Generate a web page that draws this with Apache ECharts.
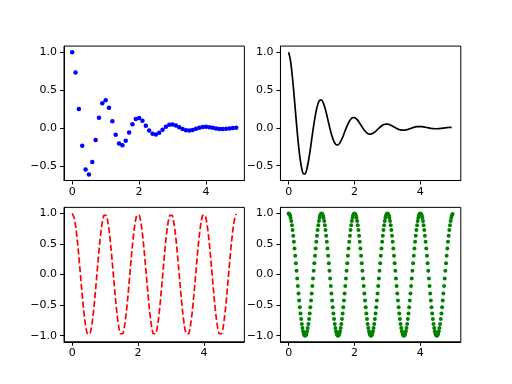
<!DOCTYPE html>
<html><head><meta charset="utf-8">
<script src="https://cdn.jsdelivr.net/npm/echarts@6/dist/echarts.min.js"></script>
<style>html,body{margin:0;padding:0;background:#fff}#c{width:512px;height:384px}</style>
</head><body><div id="c"></div>
<script>
// top-left: sampled points (step 0.1)
var t1 = [0,.1,.2,.3,.4,.5,.6,.7,.8,.9,1,1.1,1.2,1.3,1.4,1.5,1.6,1.7,1.8,1.9,2,2.1,2.2,2.3,2.4,2.5,2.6,2.7,2.8,2.9,3,3.1,3.2,3.3,3.4,3.5,3.6,3.7,3.8,3.9,4,4.1,4.2,4.3,4.4,4.5,4.6,4.7,4.8,4.9];
var y1 = [1,.732,.253,-.229,-.542,-.607,-.444,-.153,.139,.329,.368,.269,.093,-.084,-.2,-.223,-.163,-.056,.051,.121,.135,.099,.034,-.031,-.073,-.082,-.06,-.021,.019,.045,.05,.036,.013,-.011,-.027,-.03,-.022,-.008,.007,.016,.018,.013,.005,-.004,-.01,-.011,-.008,-.003,.003,.006];
// top-right: black curve (step 0.05)
var t3 = [0,.05,.1,.15,.2,.25,.3,.35,.4,.45,.5,.55,.6,.65,.7,.75,.8,.85,.9,.95,
1,1.05,1.1,1.15,1.2,1.25,1.3,1.35,1.4,1.45,1.5,1.55,1.6,1.65,1.7,1.75,1.8,1.85,1.9,1.95,
2,2.05,2.1,2.15,2.2,2.25,2.3,2.35,2.4,2.45,2.5,2.55,2.6,2.65,2.7,2.75,2.8,2.85,2.9,2.95,
3,3.05,3.1,3.15,3.2,3.25,3.3,3.35,3.4,3.45,3.5,3.55,3.6,3.65,3.7,3.75,3.8,3.85,3.9,3.95,
4,4.05,4.1,4.15,4.2,4.25,4.3,4.35,4.4,4.45,4.5,4.55,4.6,4.65,4.7,4.75,4.8,4.85,4.9,4.95];
var y2 = [1,.905,.732,.506,.253,0,-.229,-.414,-.542,-.606,-.607,-.549,-.444,-.307,-.153,0,.139,.251,.329,.368,
.368,.333,.269,.186,.093,0,-.084,-.152,-.2,-.223,-.223,-.202,-.163,-.113,-.056,0,.051,.092,.121,.135,
.135,.122,.099,.068,.034,0,-.031,-.056,-.073,-.082,-.082,-.074,-.06,-.042,-.021,0,.019,.034,.045,.05,
.05,.045,.036,.025,.013,0,-.011,-.021,-.027,-.03,-.03,-.027,-.022,-.015,-.008,0,.007,.013,.016,.018,
.018,.017,.013,.009,.005,0,-.004,-.008,-.01,-.011,-.011,-.01,-.008,-.006,-.003,0,.003,.005,.006,.007];
// bottom: dense samples (step 0.02)
var t2 = [0,.02,.04,.06,.08,.1,.12,.14,.16,.18,.2,.22,.24,.26,.28,.3,.32,.34,.36,.38,.4,.42,.44,.46,.48,.5,.52,.54,.56,.58,.6,.62,.64,.66,.68,.7,.72,.74,.76,.78,.8,.82,.84,.86,.88,.9,.92,.94,.96,.98,
1,1.02,1.04,1.06,1.08,1.1,1.12,1.14,1.16,1.18,1.2,1.22,1.24,1.26,1.28,1.3,1.32,1.34,1.36,1.38,1.4,1.42,1.44,1.46,1.48,1.5,1.52,1.54,1.56,1.58,1.6,1.62,1.64,1.66,1.68,1.7,1.72,1.74,1.76,1.78,1.8,1.82,1.84,1.86,1.88,1.9,1.92,1.94,1.96,1.98,
2,2.02,2.04,2.06,2.08,2.1,2.12,2.14,2.16,2.18,2.2,2.22,2.24,2.26,2.28,2.3,2.32,2.34,2.36,2.38,2.4,2.42,2.44,2.46,2.48,2.5,2.52,2.54,2.56,2.58,2.6,2.62,2.64,2.66,2.68,2.7,2.72,2.74,2.76,2.78,2.8,2.82,2.84,2.86,2.88,2.9,2.92,2.94,2.96,2.98,
3,3.02,3.04,3.06,3.08,3.1,3.12,3.14,3.16,3.18,3.2,3.22,3.24,3.26,3.28,3.3,3.32,3.34,3.36,3.38,3.4,3.42,3.44,3.46,3.48,3.5,3.52,3.54,3.56,3.58,3.6,3.62,3.64,3.66,3.68,3.7,3.72,3.74,3.76,3.78,3.8,3.82,3.84,3.86,3.88,3.9,3.92,3.94,3.96,3.98,
4,4.02,4.04,4.06,4.08,4.1,4.12,4.14,4.16,4.18,4.2,4.22,4.24,4.26,4.28,4.3,4.32,4.34,4.36,4.38,4.4,4.42,4.44,4.46,4.48,4.5,4.52,4.54,4.56,4.58,4.6,4.62,4.64,4.66,4.68,4.7,4.72,4.74,4.76,4.78,4.8,4.82,4.84,4.86,4.88,4.9,4.92,4.94,4.96,4.98];
var y3 = [1,.992,.969,.93,.876,.809,.729,.637,.536,.426,.309,.187,.063,-.063,-.187,-.309,-.426,-.536,-.637,-.729,-.809,-.876,-.93,-.969,-.992,-1,-.992,-.969,-.93,-.876,-.809,-.729,-.637,-.536,-.426,-.309,-.187,-.063,.063,.187,.309,.426,.536,.637,.729,.809,.876,.93,.969,.992,
1,.992,.969,.93,.876,.809,.729,.637,.536,.426,.309,.187,.063,-.063,-.187,-.309,-.426,-.536,-.637,-.729,-.809,-.876,-.93,-.969,-.992,-1,-.992,-.969,-.93,-.876,-.809,-.729,-.637,-.536,-.426,-.309,-.187,-.063,.063,.187,.309,.426,.536,.637,.729,.809,.876,.93,.969,.992,
1,.992,.969,.93,.876,.809,.729,.637,.536,.426,.309,.187,.063,-.063,-.187,-.309,-.426,-.536,-.637,-.729,-.809,-.876,-.93,-.969,-.992,-1,-.992,-.969,-.93,-.876,-.809,-.729,-.637,-.536,-.426,-.309,-.187,-.063,.063,.187,.309,.426,.536,.637,.729,.809,.876,.93,.969,.992,
1,.992,.969,.93,.876,.809,.729,.637,.536,.426,.309,.187,.063,-.063,-.187,-.309,-.426,-.536,-.637,-.729,-.809,-.876,-.93,-.969,-.992,-1,-.992,-.969,-.93,-.876,-.809,-.729,-.637,-.536,-.426,-.309,-.187,-.063,.063,.187,.309,.426,.536,.637,.729,.809,.876,.93,.969,.992,
1,.992,.969,.93,.876,.809,.729,.637,.536,.426,.309,.187,.063,-.063,-.187,-.309,-.426,-.536,-.637,-.729,-.809,-.876,-.93,-.969,-.992,-1,-.992,-.969,-.93,-.876,-.809,-.729,-.637,-.536,-.426,-.309,-.187,-.063,.063,.187,.309,.426,.536,.637,.729,.809,.876,.93,.969,.992];
var xTicks = [0, 2, 4];
var yTicksTop = [-0.5, 0, 0.5, 1];
var yTicksBottom = [-1, -0.5, 0, 0.5, 1];

function pairs(xs, ys){ return xs.map(function(x,i){ return [x, ys[i]]; }); }
function fmt(v){ var s = Math.abs(v).toFixed(1); return v < 0 ? '\u2212' + s : s; }
var font = {fontFamily:'DejaVu Sans', fontSize:11, color:'#000'};
function xAx(i, min, max){
  return {type:'value', gridIndex:i, min:min, max:max,
    axisLine:{show:true, onZero:false, lineStyle:{color:'#000', width:1}},
    axisTick:{show:true, inside:false, length:4, customValues:xTicks, lineStyle:{color:'#000', width:1}},
    axisLabel:Object.assign({show:true, margin:6, customValues:xTicks, formatter:function(v){return String(v);}}, font),
    splitLine:{show:false}};
}
function yAx(i, min, max, ticks){
  return {type:'value', gridIndex:i, min:min, max:max,
    axisLine:{show:true, onZero:false, lineStyle:{color:'#000', width:1}},
    axisTick:{show:true, inside:false, length:4, customValues:ticks, lineStyle:{color:'#000', width:1}},
    axisLabel:Object.assign({show:true, margin:7, customValues:ticks, formatter:fmt}, font),
    splitLine:{show:false}};
}
var W = 180.36, H = 134.4;
var gridBase = {width:W, height:H, show:true, borderColor:'#000', borderWidth:1, backgroundColor:'#fff', containLabel:false};
var chart = echarts.init(document.getElementById('c'), null, {renderer:'canvas'});
chart.setOption({
  animation:false,
  backgroundColor:'#fff',
  grid:[
    Object.assign({left:64, top:46.08}, gridBase),
    Object.assign({left:280.44, top:46.08}, gridBase),
    Object.assign({left:64, top:207.36}, gridBase),
    Object.assign({left:280.44, top:207.36}, gridBase)
  ],
  xAxis:[xAx(0,-0.245,5.145), xAx(1,-0.249,5.229), xAx(2,-0.249,5.229), xAx(3,-0.249,5.229)],
  yAxis:[yAx(0,-0.6869,1.0803,yTicksTop), yAx(1,-0.6946,1.0807,yTicksTop), yAx(2,-1.1,1.1,yTicksBottom), yAx(3,-1.1,1.1,yTicksBottom)],
  series:[
    {type:'scatter', xAxisIndex:0, yAxisIndex:0, data:pairs(t1,y1), symbol:'circle', symbolSize:4.5, itemStyle:{color:'#0000ff', opacity:1}},
    {type:'line', xAxisIndex:1, yAxisIndex:1, data:pairs(t3,y2), showSymbol:false, smooth:0.3, lineStyle:{color:'#000', width:1.7}},
    {type:'line', xAxisIndex:2, yAxisIndex:2, data:pairs(t2,y3), showSymbol:false, smooth:false, lineStyle:{color:'#ff0000', width:1.7, type:[6.2,2.7]}},
    {type:'scatter', xAxisIndex:3, yAxisIndex:3, data:pairs(t2,y3), symbol:'circle', symbolSize:4, itemStyle:{color:'#008000', opacity:1}}
  ]
});
</script></body></html>
